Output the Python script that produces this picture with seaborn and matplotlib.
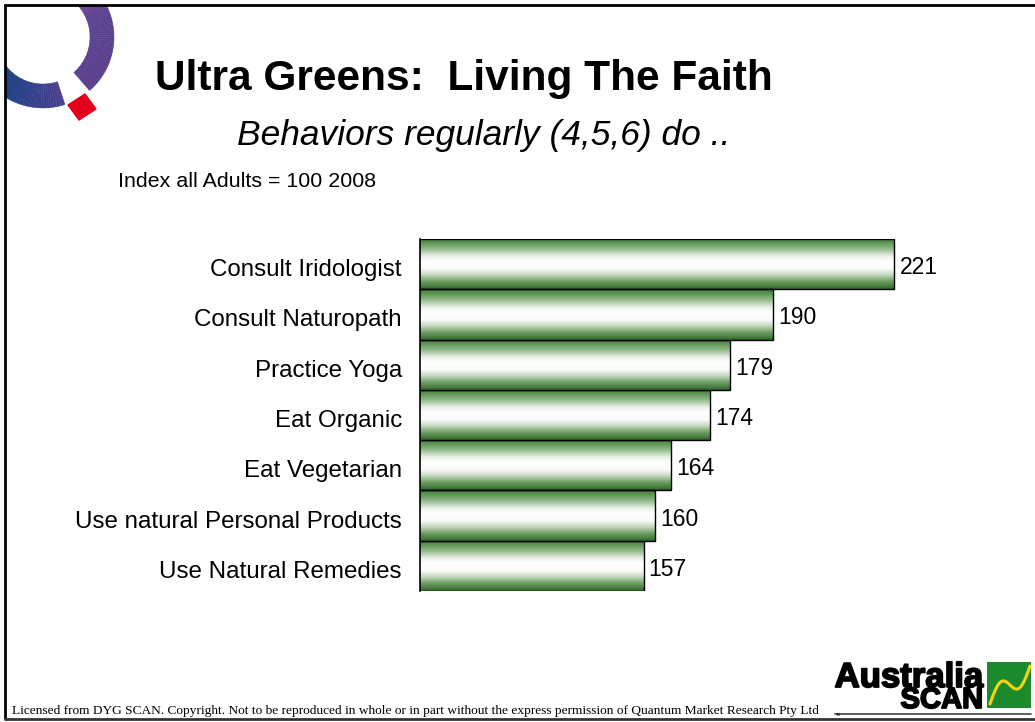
import numpy as np
import pandas as pd
import matplotlib
matplotlib.use("Agg")
import matplotlib.pyplot as plt
import matplotlib.patheffects as pe
import seaborn as sns
from matplotlib.colors import LinearSegmentedColormap
from matplotlib.patches import Polygon, Rectangle
from matplotlib.transforms import ScaledTranslation

# Behaviours regularly done (index, all adults = 100)
behaviours = [
    "Consult Iridologist",
    "Consult Naturopath",
    "Practice Yoga",
    "Eat Organic",
    "Eat Vegetarian",
    "Use natural Personal Products",
    "Use Natural Remedies",
]
index_values = [221, 190, 179, 174, 164, 160, 157]
index_base = 100

title_text = "Ultra Greens:  Living The Faith"
subtitle_text = "Behaviors regularly (4,5,6) do .."
base_note = "Index all Adults = 100 2008"
footer_text = ("Licensed from DYG SCAN. Copyright. Not to be reproduced in whole or in part "
               "without the express permission of Quantum Market Research Pty Ltd")

df = pd.DataFrame({"behaviour": behaviours, "index": index_values})

sns.set_theme(style="white")
plt.rcParams["font.family"] = ["Liberation Sans", "DejaVu Sans"]
plt.rcParams["text.color"] = "black"
plt.rcParams["axes.labelcolor"] = "black"
plt.rcParams["ytick.color"] = "black"

W, H = 1035, 722
fig = plt.figure(figsize=(W / 100, H / 100), dpi=100)
fig.patch.set_facecolor("white")

# Decoration layer in pixel coordinates (y downwards)
deco = fig.add_axes([0, 0, 1, 1], zorder=0)
deco.set_xlim(0, W)
deco.set_ylim(H, 0)
deco.axis("off")

# Main bar chart axes
ax = fig.add_axes([420 / W, 1 - 591 / H, 549 / W, 352 / H], zorder=2)
ax.patch.set_alpha(0)

sns.barplot(data=df, x="index", y="behaviour", orient="h", ax=ax,
            width=1.0, color="white", edgecolor="black", linewidth=1.0)

x_lo, x_hi = index_base, 240

# Green-white-green shading inside each bar
shade = LinearSegmentedColormap.from_list(
    "shade",
    [(0.0, "#3f7a37"), (0.08, "#5c9353"), (0.2, "#8db585"), (0.35, "#e8f0e6"),
     (0.45, "#ffffff"), (0.6, "#fafcf9"), (0.72, "#c5d9c0"), (0.85, "#6e9d64"),
     (0.95, "#447d3b"), (1.0, "#2f5f28")])
grad = np.linspace(0, 1, 256).reshape(-1, 1)
for bar in ax.patches:
    x0, y0 = bar.get_x(), bar.get_y()
    w, h = bar.get_width(), bar.get_height()
    ax.imshow(grad, cmap=shade, aspect="auto", origin="upper",
              extent=(max(x0, x_lo), x0 + w, y0 + h, y0),
              zorder=bar.get_zorder() - 0.1, interpolation="bilinear")
    bar.set_facecolor("none")
    bar.set_zorder(bar.get_zorder() + 0.2)

for i, v in enumerate(df["index"]):
    ax.text(v + 1.3, i + 0.07, f"{v}", va="center", ha="left", fontsize=16.5, color="black")

ax.set_xlim(x_lo, x_hi)
ax.set_ylim(6.5, -0.5)
ax.set_xlabel("")
ax.set_ylabel("")
ax.set_xticks([])
ax.tick_params(axis="y", length=0, pad=13, labelsize=17.4, labelcolor="black")
nudge = ScaledTranslation(0, -2.5 / 72, fig.dpi_scale_trans)
for lbl in ax.get_yticklabels():
    lbl.set_transform(lbl.get_transform() + nudge)
for side in ["top", "right", "bottom"]:
    ax.spines[side].set_visible(False)
ax.spines["left"].set_color("black")
ax.spines["left"].set_linewidth(1.2)

# Page frame
deco.plot([5, 5], [4, 719], color="black", lw=2.0, solid_capstyle="butt")
deco.plot([4, W], [4.5, 4.5], color="black", lw=2.0, solid_capstyle="butt")
deco.plot([4, W], [719, 719], color="#333333", lw=2.0, solid_capstyle="butt")

# Headings
deco.text(155, 90, title_text, fontsize=30.5, fontweight="bold", ha="left", va="baseline")
deco.text(237, 145, subtitle_text, fontsize=25.5, fontstyle="italic", ha="left", va="baseline")
deco.text(118, 187, base_note, fontsize=15.4, ha="left", va="baseline")
deco.text(12, 714, footer_text, fontsize=9.6, ha="left", va="baseline",
          family=["Liberation Serif", "DejaVu Serif"])

# Ring logo, top-left
frame_clip = Rectangle((6, 5.5), W, H, transform=deco.transData)
cx, cy, r_out, r_in = 43, 37, 71, 47


def ring_piece(a0, a1, color):
    t = np.radians(np.linspace(a0, a1, 6))
    pts = np.concatenate([
        np.c_[cx + r_out * np.cos(t), cy + r_out * np.sin(t)],
        np.c_[cx + r_in * np.cos(t[::-1]), cy + r_in * np.sin(t[::-1])],
    ])
    p = Polygon(pts, closed=True, facecolor=color, edgecolor=color, lw=0.3)
    deco.add_patch(p)
    p.set_clip_path(frame_clip)


ring_blue = LinearSegmentedColormap.from_list(
    "rb", ["#4a3f8c", "#243f88", "#163a7c", "#163a7c"])
ring_purple = LinearSegmentedColormap.from_list(
    "rp", ["#a0577e", "#7a4c8c", "#5c4192", "#5a3e8e", "#5a3e8e"])
blue_angles = np.linspace(72, 200, 60)
for k in range(len(blue_angles) - 1):
    ring_piece(blue_angles[k], blue_angles[k + 1], ring_blue(k / (len(blue_angles) - 2)))
purple_angles = np.linspace(-90, 49, 70)
for k in range(len(purple_angles) - 1):
    ring_piece(purple_angles[k], purple_angles[k + 1], ring_purple(k / (len(purple_angles) - 2)))

diamond = Polygon([(85, 94), (96, 109), (79, 120), (68, 105)], closed=True,
                  facecolor="#e2001a", edgecolor="#e2001a")
deco.add_patch(diamond)

# Brand logo, bottom-right
heavy = [pe.withStroke(linewidth=1.3, foreground="black")]
deco.text(983, 687, "Australia", fontsize=25, fontweight="bold", ha="right",
          va="baseline", path_effects=heavy)
deco.text(983, 708, "SCAN", fontsize=21, fontweight="bold", ha="right",
          va="baseline", path_effects=heavy)
deco.add_patch(Rectangle((987, 662), 44, 46, facecolor="#1b8a2c", edgecolor="none"))
s = np.linspace(0, 1, 80)
curve_x = 990 + 40 * s
curve_y = 704 - 38 * s - 12 * np.sin(2 * np.pi * s)
deco.plot(curve_x, curve_y, color="#f5d311", lw=2.2, solid_capstyle="round")
deco.plot([835, 1031], [714, 714], color="#444444", lw=1.2)
deco.text(836, 715, "TM", fontsize=2.5, ha="left", va="center")

fig.savefig("out.png", dpi=100, facecolor="white")
